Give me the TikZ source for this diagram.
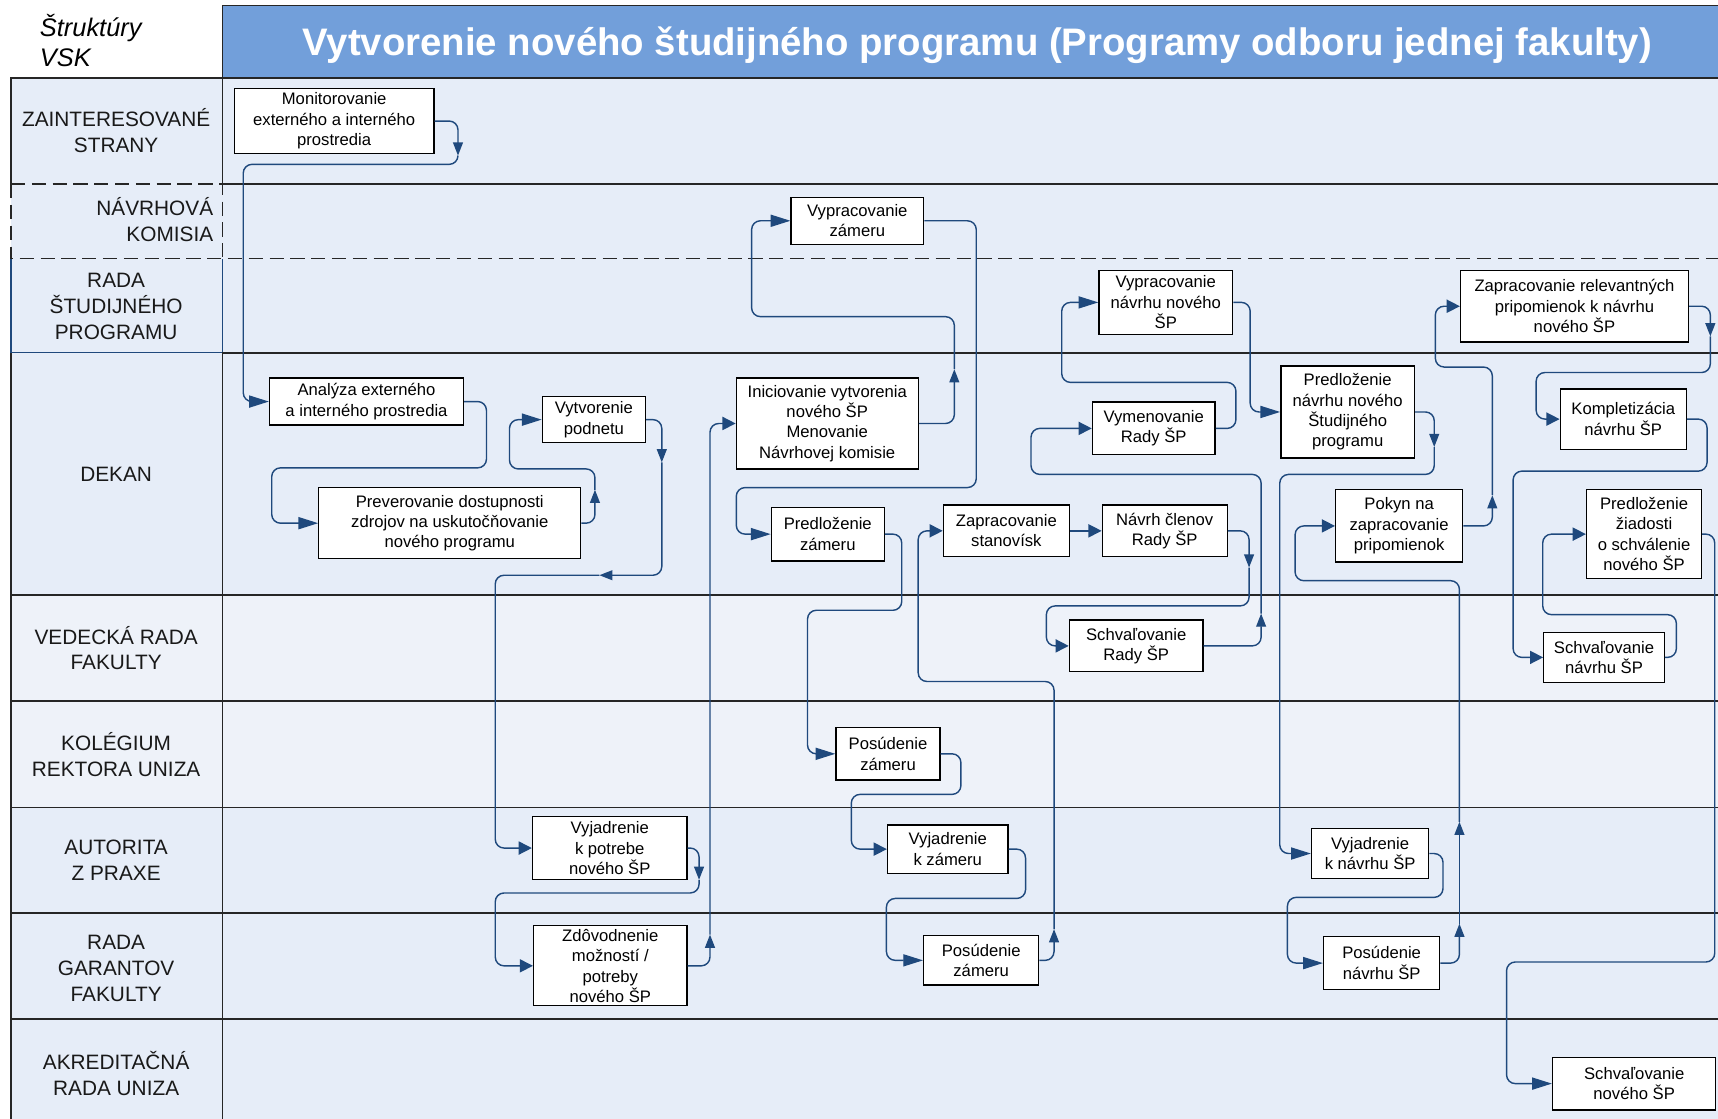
\documentclass[tikz,border=0pt]{standalone}
\usepackage{fontspec}
\setmainfont{Liberation Sans}
\usepackage{xcolor}
\usepackage{tikz}
\usetikzlibrary{arrows.meta}
\definecolor{titleblue}{RGB}{114,159,218}
\definecolor{lanebg}{RGB}{230,237,248}
\definecolor{lanelight}{RGB}{238,242,249}
\definecolor{flowblue}{RGB}{31,73,125}
\def\act#1#2#3#4#5{\node[act,minimum width=#3pt,minimum height=#4pt] (#1) at (#2) {#5}}
\tikzstyle{act}=[draw=black,fill=white,line width=0.6pt,align=center,inner sep=1pt,font=\fontsize{7.6}{9.3}\selectfont]
\tikzstyle{lane}=[align=center,inner sep=0pt,text=black!90,font=\fontsize{9.5}{11.8}\selectfont]
\tikzstyle{rowline}=[draw=black!85,line width=0.8pt]
\tikzstyle{dashrow}=[rowline,dash pattern=on 6.5pt off 3pt]
\tikzstyle{flow}=[draw=flowblue,line width=0.65pt,rounded corners=4pt]
\tikzstyle{flowl}=[flow,-{Triangle[length=9pt,width=5.5pt]}]
\tikzstyle{flows}=[flow,-{Triangle[length=6pt,width=6pt]}]
\tikzstyle{flowm}=[flow,-{Triangle[length=6pt,width=4.5pt]}]
\begin{document}
\begin{tikzpicture}[x=0.5pt,y=-0.5pt]
    \useasboundingbox (0,0) rectangle (1568,1021);
    \fill[white] (0,0) rectangle (1568,1021);
    \fill[lanebg] (10,71) rectangle (1568,1021);
    \fill[lanelight] (10,543) rectangle (1568,737);
    \fill[titleblue] (203,5) rectangle (1568,71);
    \draw[rowline] (1568,5) -- (203,5) -- (203,168);
    \draw[rowline] (10,168) -- (10,71) -- (1568,71);
    \draw[rowline] (203,168) -- (1568,168);
    \draw[dashrow] (10,168) -- (203,168) -- (203,236);
    \draw[dashrow] (10,168) -- (10,236) -- (1568,236);
    \draw[flowblue,line width=0.6pt] (10,236) -- (10,322) -- (203,322) -- (203,236);
    \draw[rowline] (203,322) -- (1568,322);
    \draw[rowline] (10,322) -- (10,1021);
    \draw[rowline] (203,322) -- (203,1021);
    \foreach \y in {543,640,737,833,930} \draw[rowline] (10,\y) -- (1568,\y);

    \node[anchor=west,align=left,inner sep=0pt,font=\fontsize{11.6}{14}\selectfont\itshape] (vsk) at (36,37) {Štruktúry\\VSK};
    \node[text=white,font=\fontsize{17.5}{20}\selectfont\bfseries] (title) at (892,41) {Vytvorenie nového študijného programu (Programy odboru jednej fakulty)};

    \node[lane] (zs) at (106,119) {ZAINTERESOVANÉ\\STRANY};
    \node[lane,anchor=east,align=right] (nk) at (195,200.5) {NÁVRHOVÁ\\KOMISIA};
    \node[lane] (rsp) at (106,280) {RADA\\ŠTUDIJNÉHO\\PROGRAMU};
    \node[lane] (dek) at (106,433) {DEKAN};
    \node[lane] (vrf) at (106,591.5) {VEDECKÁ RADA\\FAKULTY};
    \node[lane] (kru) at (106,688.5) {KOLÉGIUM\\REKTORA UNIZA};
    \node[lane] (azp) at (106,785) {AUTORITA\\Z PRAXE};
    \node[lane] (rgf) at (106,884) {RADA\\GARANTOV\\FAKULTY};
    \node[lane] (aru) at (106,979.5) {AKREDITAČNÁ\\RADA UNIZA};

    \act{mon}{305,110.5}{91}{29.5}{Monitorovanie\\externého a interného\\prostredia};
    \act{vzam}{782.5,201.5}{60.5}{21.5}{Vypracovanie\\zámeru};
    \act{vnav}{1064,276}{61}{29}{Vypracovanie\\návrhu nového\\ŠP};
    \act{zrel}{1437,279.5}{104}{32.5}{Zapracovanie relevantných\\pripomienok k návrhu\\nového ŠP};
    \act{anal}{334.5,366.5}{88.5}{21.5}{Analýza externého\\a interného prostredia};
    \act{podn}{542,383}{47}{21}{Vytvorenie\\podnetu};
    \act{prev}{410.5,477.5}{119.5}{32.5}{Preverovanie dostupnosti\\zdrojov na uskutočňovanie\\nového programu};
    \act{inic}{755,386.5}{83}{41.5}{Iniciovanie vytvorenia\\nového ŠP\\Menovanie\\Návrhovej komisie};
    \act{pzam}{755.5,487.5}{51.5}{24.5}{Predloženie\\zámeru};
    \act{zsta}{918.5,484.5}{57.5}{23.5}{Zapracovanie\\stanovísk};
    \act{nacl}{1063,484.5}{57}{23.5}{Návrh členov\\Rady ŠP};
    \act{vyme}{1053,391}{56}{24}{Vymenovanie\\Rady ŠP};
    \act{pnav}{1230,376}{61}{42}{Predloženie\\návrhu nového\\Študijného\\programu};
    \act{pokyn}{1277,480}{58}{33}{Pokyn na\\zapracovanie\\pripomienok};
    \act{kompl}{1481.5,382.5}{57.5}{27.5}{Kompletizácia\\návrhu ŠP};
    \act{ziad}{1500.5,487.5}{52.5}{40.5}{Predloženie\\žiadosti\\o schválenie\\nového ŠP};
    \act{srad}{1037,589.5}{61}{23.5}{Schvaľovanie\\Rady ŠP};
    \act{snav}{1464,600}{55}{23}{Schvaľovanie\\návrhu ŠP};
    \act{poskr}{810.5,688}{47.5}{24}{Posúdenie\\zámeru};
    \act{vpot}{556.5,774}{70.5}{29}{Vyjadrenie\\k potrebe\\nového ŠP};
    \act{vzkz}{865,775}{55}{22}{Vyjadrenie\\k zámeru};
    \act{vknav}{1250.5,779}{53.5}{23}{Vyjadrenie\\k návrhu ŠP};
    \act{zdov}{557,881.5}{70}{36.5}{Zdôvodnenie\\možností /\\potreby\\nového ŠP};
    \act{posrg}{895.5,876.5}{52.5}{22.5}{Posúdenie\\zámeru};
    \act{posnav}{1261,879}{53}{24}{Posúdenie\\návrhu ŠP};
    \act{snov}{1491.5,989}{74.5}{24}{Schvaľovanie\\nového ŠP};

    \coordinate (m1) at (418,142);
    \coordinate (m3) at (543,447);
    \coordinate (m4a) at (604,422);
    \coordinate (m4b) at (547,525);
    \coordinate (m5) at (638,803);
    \coordinate (m6) at (648,853);
    \coordinate (m7) at (871,337);
    \coordinate (m12) at (962,848);
    \coordinate (m14) at (1140,518);
    \coordinate (m15) at (1151,560);
    \coordinate (m18) at (1309,408);
    \coordinate (m20a) at (1332,843);
    \coordinate (m20b) at (1332,750);
    \coordinate (m21) at (1362,452);
    \coordinate (m22) at (1561,307);

    \draw[flowm] (mon.east) -| (m1);
    \draw[flowl] (m1) |- (222,150) |- (anal.west);
    \draw[flowl] (anal.east) -| (444,427) -- (248,427) |- (prev.west);
    \draw[flowm] (prev.east) -| (m3);
    \draw[flowl] (m3) -- (543,428) -- (465,428) |- (podn.west);
    \draw[flowm] (podn.east) -| (m4a);
    \draw[flowm] (m4a) |- (m4b);
    \draw[flows] (m4b) -- (452,525) |- (vpot.west);
    \draw[flowm] (vpot.east) -| (m5);
    \draw[flows] (m5) -- (638,815) -- (452,815) |- (zdov.west);
    \draw[flowm] (zdov.east) -| (m6);
    \draw[flows] (m6) |- (inic.west);
    \draw[flowm] (inic.east) -| (m7);
    \draw[flowl] (m7) -- (871,289) -- (686,289) |- (vzam.west);
    \draw[flowl] (vzam.east) -| (891,445) -- (672,445) |- (pzam.west);
    \draw[flowl] (pzam.east) -| (823,557) -- (737,557) |- (poskr.west);
    \draw[flows] (poskr.east) -| (877,725) -- (777,725) |- (vzkz.west);
    \draw[flowl] (vzkz.east) -| (936,820) -- (809,820) |- (posrg.west);
    \draw[flowm] (posrg.east) -| (m12);
    \draw[flows] (m12) -- (962,622) -- (838,622) |- (zsta.west);
    \draw[flows] (zsta.east) -- (nacl.west);
    \draw[flowm] (nacl.east) -| (m14);
    \draw[flows] (m14) -- (1140,553) -- (955,553) |- (srad.west);
    \draw[flowm] (srad.east) -| (m15);
    \draw[flows] (m15) -- (1151,433) -- (941,433) |- (vyme.west);
    \draw[flowl] (vyme.east) -| (1128,349) -- (969,349) |- (vnav.west);
    \draw[flowl] (vnav.east) -| (1141,330) |- (pnav.west);
    \draw[flowm] (pnav.east) -| (m18);
    \draw[flowl] (m18) -- (1309,433) -- (1168,433) |- (vknav.west);
    \draw[flowl] (vknav.east) -| (1317,819) -- (1175,819) |- (posnav.west);
    \draw[flowm] (posnav.east) -| (m20a);
    \draw[flowm] (m20a) -- (m20b);
    \draw[flows] (m20b) -- (1332,530) -- (1182,530) |- (pokyn.west);
    \draw[flowm] (pokyn.east) -| (m21);
    \draw[flows] (m21) -- (1362,335) -- (1310,335) |- (zrel.west);
    \draw[flowm] (zrel.east) -| (m22);
    \draw[flows] (m22) -- (1561,340) -- (1402,340) |- (kompl.west);
    \draw[flows] (kompl.east) -| (1558,430) -- (1381,430) |- (snav.west);
    \draw[flows] (snav.east) -| (1530,561) -- (1408,561) |- (ziad.west);
    \draw[flowl] (ziad.east) -| (1565,878) -- (1375,878) |- (snov.west);
\end{tikzpicture}
\end{document}
